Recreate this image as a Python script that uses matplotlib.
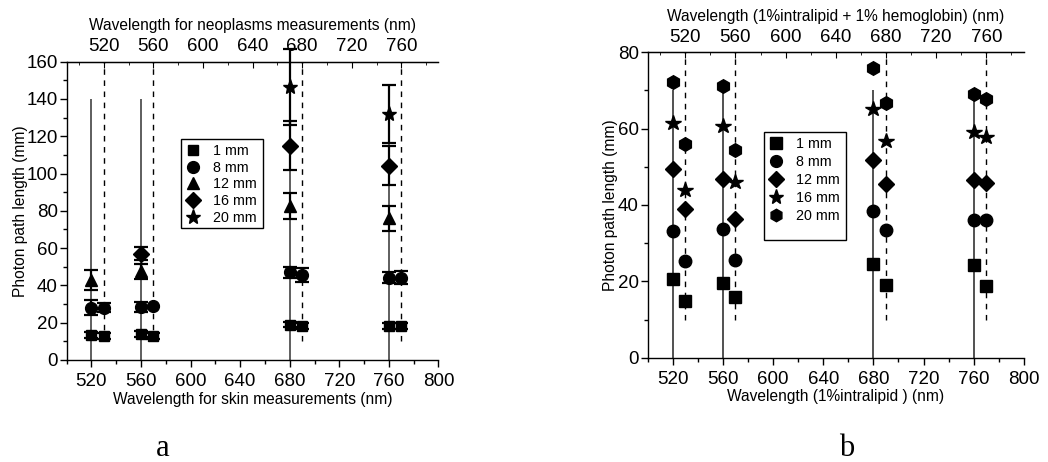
import numpy as np
import matplotlib
matplotlib.use("Agg")
import matplotlib.pyplot as plt
from matplotlib.ticker import MultipleLocator
from matplotlib.lines import Line2D
from matplotlib.patches import Rectangle

plt.rcParams['font.family'] = ['Liberation Sans', 'DejaVu Sans']

# ---------------- data: panel a ----------------
skin_wl = [520, 560, 680, 760]          # bottom axis
neo_wl = [520, 560, 680, 760]           # top axis
depth_labels = ['1 mm', '8 mm', '12 mm', '16 mm', '20 mm']
nan = np.nan
skin_1mm = [13.5, 13.8, 19.0, 18.2]
skin_1mm_err = [1.5, 1.5, 1.5, 1.5]
skin_8mm = [28.0, 28.5, 47.0, 44.2]
skin_8mm_err = [4.0, 2.5, 3.0, 3.0]
skin_12mm = [43.0, 47.5, 82.6, 76.0]
skin_12mm_err = [5.5, 4.2, 6.9, 6.7]
skin_16mm = [nan, 57.0, 115.0, 104.2]
skin_16mm_err = [nan, 3.5, 13.0, 10.5]
skin_20mm = [nan, nan, 146.5, 131.8]
skin_20mm_err = [nan, nan, 20.5, 15.5]
neo_1mm = [12.8, 12.8, 18.2, 18.2]
neo_1mm_err = [1.5, 1.5, 1.5, 1.5]
neo_8mm = [28.0, 29.0, 45.6, 44.0]
neo_8mm_err = [2.5, 0.0, 3.6, 3.5]
skin_drop_top = 140
neo_drop = (10, 160)

# ---------------- data: panel b ----------------
ip_wl = [520, 560, 680, 760]            # bottom axis (1% intralipid)
hb_wl = [520, 560, 680, 760]            # top axis (intralipid + hemoglobin)
ip_1mm = [20.7, 19.5, 24.5, 24.3]
ip_8mm = [33.3, 33.7, 38.3, 36.1]
ip_12mm = [49.4, 46.8, 51.8, 46.5]
ip_16mm = [61.6, 60.7, 65.1, 59.0]
ip_20mm = [72.1, 71.2, 75.8, 69.0]
hb_1mm = [14.9, 16.0, 19.0, 18.8]
hb_8mm = [25.2, 25.6, 33.5, 36.1]
hb_12mm = [39.0, 36.3, 45.4, 45.8]
hb_16mm = [43.9, 46.1, 56.8, 57.9]
hb_20mm = [55.9, 54.4, 66.6, 67.7]
ip_drop_top = 70
hb_drop = (10, 80)

TOP_SHIFT = 10   # top-axis values are offset by +10 nm on the bottom scale

fig = plt.figure(figsize=(10.48, 4.62), dpi=100)
axa = fig.add_axes([0.0636, 0.2208, 0.3548, 0.6457])
axb = fig.add_axes([0.618, 0.2258, 0.359, 0.661])

TICK_FS = 13.5
LAB_FS = 11.2


def style_axes(ax, ymax, ymaj, ymin, toplabel, botlabel):
    ax.set_xlim(500, 800)
    ax.set_ylim(0, ymax)
    ax.spines['right'].set_visible(False)
    ax.xaxis.set_major_locator(MultipleLocator(40))
    ax.xaxis.set_minor_locator(MultipleLocator(20))
    ax.yaxis.set_major_locator(MultipleLocator(ymaj))
    ax.yaxis.set_minor_locator(MultipleLocator(ymin))
    ax.tick_params(axis='both', which='major', direction='out', length=5,
                   width=1, labelsize=TICK_FS, pad=1.5)
    ax.tick_params(axis='x', which='major', pad=4.5)
    ax.tick_params(axis='both', which='minor', direction='out', length=3, width=1)
    ax.set_xticks([520, 560, 600, 640, 680, 720, 760, 800])
    ax.set_xlabel(botlabel, fontsize=LAB_FS, labelpad=1)
    for s in ax.spines.values():
        s.set_linewidth(1.0)
    top = ax.twiny()
    top.set_xlim(500 - TOP_SHIFT, 800 - TOP_SHIFT)
    top.spines['right'].set_visible(False)
    top.spines['left'].set_visible(False)
    top.spines['bottom'].set_visible(False)
    top.set_xticks([520, 560, 600, 640, 680, 720, 760])
    top.xaxis.set_minor_locator(MultipleLocator(20))
    top.tick_params(axis='x', which='major', direction='in', length=4,
                    labelsize=TICK_FS, pad=4.5)
    top.tick_params(axis='x', which='minor', direction='in', length=2)
    top.set_xlabel(toplabel, fontsize=LAB_FS, labelpad=6)
    return top


def legend_box(ax, handles, x0, y_top, x1, y_bot, spacing):
    leg = ax.legend(handles, depth_labels, loc='upper left',
                    bbox_to_anchor=(x0, y_top), fontsize=10.3, frameon=False,
                    handlelength=1.0, handletextpad=0.9, labelspacing=spacing,
                    borderpad=0.35, borderaxespad=0)
    leg.set_zorder(5)
    ax.add_patch(Rectangle((x0, y_bot), x1 - x0, y_top - y_bot,
                           transform=ax.transAxes, facecolor='white',
                           edgecolor='black', linewidth=1.0, zorder=4.5,
                           clip_on=False))
    return leg


# ---------- panel a ----------
topa = style_axes(axa, 160, 20, 10, 'Wavelength for neoplasms measurements (nm)',
                  'Wavelength for skin measurements (nm)')
axa.set_ylabel('Photon path length (mm)', fontsize=LAB_FS)
axa.yaxis.set_label_coords(-0.103, 0.5)

axa.vlines(skin_wl, 0, skin_drop_top, colors='#333333', linewidth=1.1, zorder=1)
topa.vlines(neo_wl, neo_drop[0], neo_drop[1], colors='black', linewidth=1.0,
            linestyles=(0, (4, 4)), zorder=1)

markers = ['s', 'o', '^', 'D', '*']
sizes_a = [7.5, 8.5, 9, 8, 11]
skin_series = [(skin_1mm, skin_1mm_err), (skin_8mm, skin_8mm_err),
               (skin_12mm, skin_12mm_err), (skin_16mm, skin_16mm_err),
               (skin_20mm, skin_20mm_err)]
for (vals, errs), m, ms in zip(skin_series, markers, sizes_a):
    axa.errorbar(skin_wl, vals, yerr=errs, fmt=m, color='black', ms=ms,
                 elinewidth=1.6, capsize=5, capthick=1.6, zorder=3, clip_on=False)
neo_series = [(neo_1mm, neo_1mm_err), (neo_8mm, neo_8mm_err)]
for (vals, errs), m, ms in zip(neo_series, markers[:2], sizes_a[:2]):
    topa.errorbar(neo_wl, vals, yerr=errs, fmt=m, color='black', ms=ms,
                  elinewidth=1.6, capsize=5, capthick=1.6, zorder=3, clip_on=False)

handles_a = [Line2D([], [], marker=m, color='black', linestyle='none', ms=s)
             for m, s in zip(markers, [7.5, 8.5, 9, 8, 11])]
legend_box(axa, handles_a, 0.307, 0.742, 0.528, 0.442, 0.2)

# ---------- panel b ----------
topb = style_axes(axb, 80, 20, 10, 'Wavelength (1%intralipid + 1% hemoglobin) (nm)',
                  'Wavelength (1%intralipid ) (nm)')
axb.set_ylabel('Photon path length (mm)', fontsize=LAB_FS)
axb.yaxis.set_label_coords(-0.079, 0.5)

axb.vlines(ip_wl, 0, ip_drop_top, colors='#222222', linewidth=1.1, zorder=1)
topb.vlines(hb_wl, hb_drop[0], hb_drop[1], colors='black', linewidth=1.0,
            linestyles=(0, (4, 4)), zorder=1)

markers_b = ['s', 'o', 'D', '*', 'h']
sizes_b = [8.5, 9, 8.5, 11.5, 9.8]
ip_series = [ip_1mm, ip_8mm, ip_12mm, ip_16mm, ip_20mm]
hb_series = [hb_1mm, hb_8mm, hb_12mm, hb_16mm, hb_20mm]
for vals, m, ms in zip(ip_series, markers_b, sizes_b):
    axb.plot(ip_wl, vals, linestyle='none', marker=m, color='black', ms=ms, zorder=3)
for vals, m, ms in zip(hb_series, markers_b, sizes_b):
    topb.plot(hb_wl, vals, linestyle='none', marker=m, color='black', ms=ms, zorder=3)

handles_b = [Line2D([], [], marker=m, color='black', linestyle='none', ms=s)
             for m, s in zip(markers_b, [8, 8.5, 8, 11, 9])]
legend_box(axb, handles_b, 0.309, 0.740, 0.527, 0.386, 0.28)

# panel letters
fig.text(163 / 1048, 1 - 449 / 462, 'a', family=['Liberation Serif', 'DejaVu Serif'],
         fontsize=22, ha='center', va='center')
fig.text(847 / 1048, 1 - 449 / 462, 'b', family=['Liberation Serif', 'DejaVu Serif'],
         fontsize=22, ha='center', va='center')

fig.savefig('out.png', dpi=100)
